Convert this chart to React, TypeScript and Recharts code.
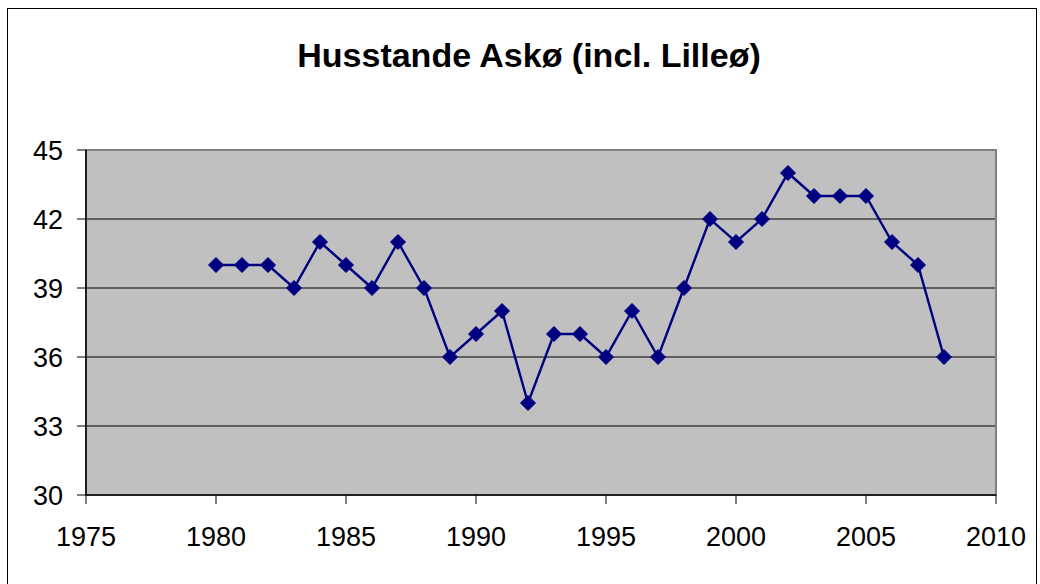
import React from "react";
import { LineChart, Line, XAxis, YAxis, CartesianGrid, ReferenceArea } from "recharts";

const years = [1980,1981,1982,1983,1984,1985,1986,1987,1988,1989,1990,1991,1992,1993,1994,1995,1996,1997,1998,1999,2000,2001,2002,2003,2004,2005,2006,2007,2008];
const households = [40,40,40,39,41,40,39,41,39,36,37,38,34,37,37,36,38,36,39,42,41,42,44,43,43,43,41,40,36];
const xTicks = [1975,1980,1985,1990,1995,2000,2005,2010];
const yTicks = [30,33,36,39,42,45];
const title = "Husstande Askø (incl. Lilleø)";

const data = years.map((y, i) => ({ year: y, value: households[i] }));

const Diamond = (props: any) => {
  const { cx, cy } = props;
  if (cx == null || cy == null) return null;
  const r = 7.5;
  return (
    <polygon
      points={`${cx},${cy - r} ${cx + r},${cy} ${cx},${cy + r} ${cx - r},${cy}`}
      fill="#000080"
      stroke="#000080"
      strokeWidth={1}
    />
  );
};

export default function App() {
  const font = "'Liberation Sans', Arial, sans-serif";
  return (
    <div style={{ position: "fixed", left: 0, top: 0, width: 1040, height: 584, background: "#fff", overflow: "hidden" }}>
      <div style={{ position: "absolute", left: 7, top: 8, width: 1030, height: 600, border: "1.5px solid #000", boxSizing: "border-box" }} />
      <div style={{ position: "absolute", left: 0, top: 36, width: 1058, textAlign: "center", fontFamily: font, fontWeight: "bold", fontSize: 34, lineHeight: "normal", color: "#000", whiteSpace: "nowrap" }}>
        {title}
      </div>
      <div style={{ position: "absolute", left: 0, top: 0 }}>
        <LineChart width={1040} height={584} data={data} margin={{ top: 150, right: 44, bottom: 49, left: 0 }}>
          <CartesianGrid vertical={false} horizontal={true} stroke="#000" strokeWidth={1.2} fill="#C0C0C0" fillOpacity={1} />
          <ReferenceArea x1={1975} x2={2010} y1={30} y2={45} fill="none" stroke="#808080" strokeWidth={2} ifOverflow="visible" />
          <XAxis
            dataKey="year"
            type="number"
            domain={[1975, 2010]}
            ticks={xTicks}
            height={40}
            tickSize={9}
            tickMargin={23}
            axisLine={{ stroke: "#000", strokeWidth: 1.5 }}
            tickLine={{ stroke: "#000" }}
            tick={{ fill: "#000", fontSize: 27, fontFamily: font }}
          />
          <YAxis
            type="number"
            domain={[30, 45]}
            ticks={yTicks}
            width={86}
            tickSize={9}
            tickMargin={14}
            axisLine={{ stroke: "#000", strokeWidth: 1.5 }}
            tickLine={{ stroke: "#000" }}
            tick={{ fill: "#000", fontSize: 27, fontFamily: font }}
            interval={0}
          />
          <Line
            type="linear"
            dataKey="value"
            stroke="#000080"
            strokeWidth={2.4}
            dot={<Diamond />}
            activeDot={false}
            isAnimationActive={false}
          />
        </LineChart>
      </div>
    </div>
  );
}
